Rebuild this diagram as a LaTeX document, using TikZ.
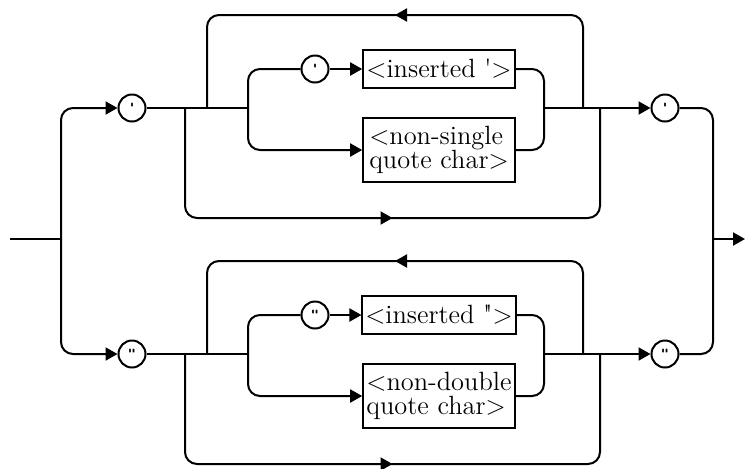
\documentclass[tikz,border=0pt]{standalone}
\usetikzlibrary{arrows.meta,decorations.markings}
\begin{document}
\begin{tikzpicture}[x=0.5pt, y=-0.5pt, line width=1pt,
    >={Triangle[length=6pt,width=6.5pt]},
    wire/.style={rounded corners=6pt},
    tok/.style={circle, draw, minimum size=13.5pt, inner sep=0pt, font=\fontsize{6.5}{6.5}\sffamily\bfseries},
    item/.style={rectangle, draw, line width=0.8pt, minimum width=76pt, minimum height=19pt, inner sep=1.5pt, align=left, font=\fontsize{13.2}{12.2}\selectfont},
    midarrow/.style={postaction={decorate}, decoration={markings, mark=at position 0.5 with {\arrow{>}}}}]

    \useasboundingbox (0,0) rectangle (746,468);

    % entry and exit
    \coordinate (in) at (10,239);
    \coordinate (split) at (61,239);
    \coordinate (merge) at (713,239);
    \coordinate (out) at (745,239);

    % single quote branch
    \node [tok] (sqa) at (132,108) {\textquotesingle};
    \node [tok] (sqb) at (315,69) {\textquotesingle};
    \node [tok] (sqc) at (665,108) {\textquotesingle};
    \node [item] (sins) at (439,69) {\textless inserted \textquotesingle\textgreater};
    \node [item, minimum height=32pt] (snon) at (439,150) {\textless non-single\\quote char\textgreater};

    \coordinate (sj1) at (185,108);
    \coordinate (sj2) at (207,108);
    \coordinate (sj3) at (248,108);
    \coordinate (sj4) at (544,108);
    \coordinate (sj5) at (583,108);
    \coordinate (sj6) at (600,108);

    % double quote branch
    \node [tok] (dqa) at (132,354) {\textquotedbl};
    \node [tok] (dqb) at (315,315) {\textquotedbl};
    \node [tok] (dqc) at (665,354) {\textquotedbl};
    \node [item] (dins) at (439,315) {\textless inserted \textquotedbl\textgreater};
    \node [item, minimum height=32pt] (dnon) at (439,396) {\textless non-double\\quote char\textgreater};

    \coordinate (dj1) at (185,354);
    \coordinate (dj2) at (207,354);
    \coordinate (dj3) at (248,354);
    \coordinate (dj4) at (544,354);
    \coordinate (dj5) at (583,354);
    \coordinate (dj6) at (600,354);

    \draw (in) -- (split);
    \draw[wire, ->] (split) |- (sqa);
    \draw[wire, ->] (split) |- (dqa);
    \draw[wire] (sqc) -| (merge);
    \draw[wire] (dqc) -| (merge);
    \draw[->] (merge) -- (out);

    \draw (sqa) -- (sj3);
    \draw[wire] (sj3) |- (sqb);
    \draw[->] (sqb) -- (sins);
    \draw[wire, ->] (sj3) |- (snon);
    \draw[wire] (sins) -| (sj4) |- (snon);
    \draw[->] (sj4) -- (sqc);
    \draw[wire, midarrow] (sj5) -- ++(0,-93) -| (sj2);
    \draw[wire, midarrow] (sj1) -- ++(0,110) -| (sj6);

    \draw (dqa) -- (dj3);
    \draw[wire] (dj3) |- (dqb);
    \draw[->] (dqb) -- (dins);
    \draw[wire, ->] (dj3) |- (dnon);
    \draw[wire] (dins) -| (dj4) |- (dnon);
    \draw[->] (dj4) -- (dqc);
    \draw[wire, midarrow] (dj5) -- ++(0,-93) -| (dj2);
    \draw[wire, midarrow] (dj1) -- ++(0,110) -| (dj6);

\end{tikzpicture}
\end{document}
